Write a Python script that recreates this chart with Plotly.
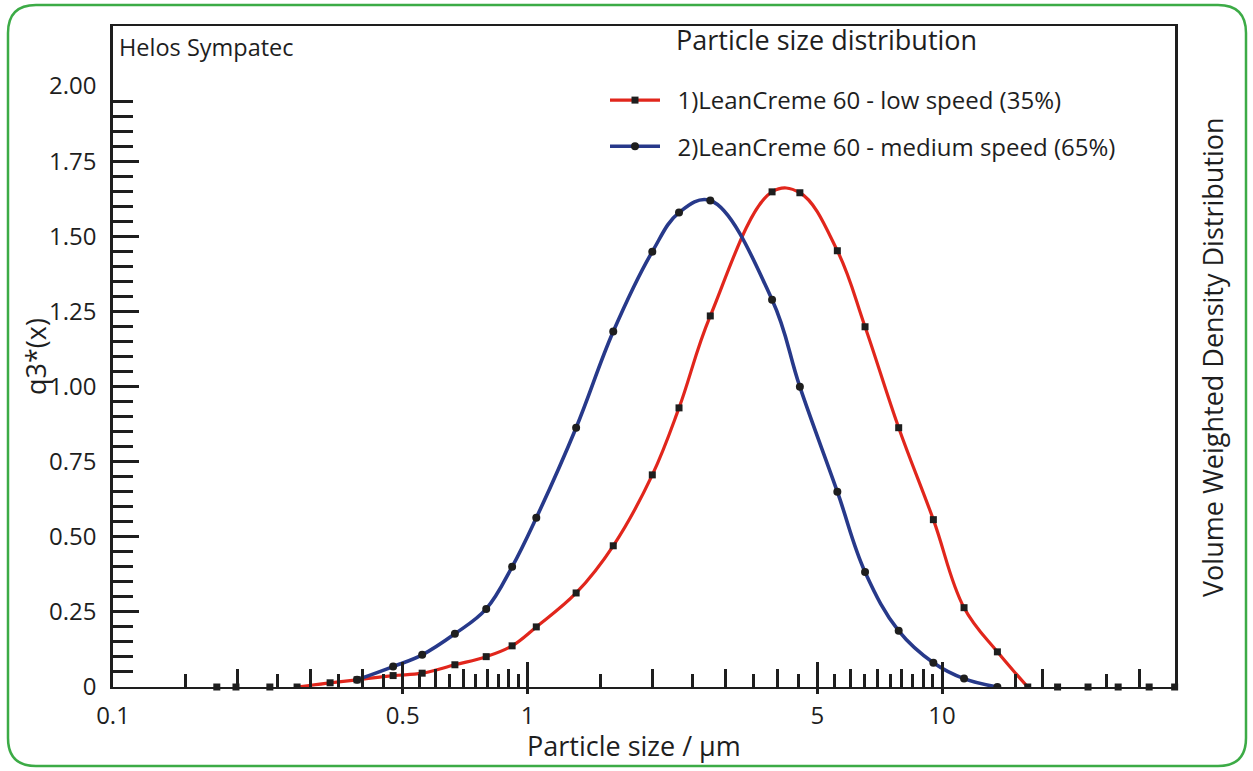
import plotly.graph_objects as go

# Particle size classes (µm) and volume weighted density q3*(x)
size_um = [0.178, 0.198, 0.239, 0.278, 0.334, 0.388, 0.474, 0.557, 0.668, 0.795,
           0.918, 1.05, 1.31, 1.61, 2.00, 2.32, 2.76, 3.89, 4.54, 5.59,
           6.52, 7.86, 9.53, 11.3, 13.6, 16.1, 19.0, 22.5, 26.6, 31.6, 36.4]

q3_low = [0, 0, 0, 0, 0.014, 0.024, 0.038, 0.046, 0.074, 0.101,
          0.137, 0.200, 0.313, 0.470, 0.706, 0.929, 1.235, 1.648, 1.645, 1.452,
          1.199, 0.863, 0.557, 0.264, 0.117, 0, 0, 0, 0, 0, 0]

size_um_medium = size_um[5:25]
q3_medium = [0.024, 0.068, 0.107, 0.177, 0.260, 0.400, 0.563, 0.863, 1.183, 1.449,
             1.579, 1.619, 1.289, 0.999, 0.650, 0.383, 0.187, 0.081, 0.028, 0]

x_tick_vals = [0.1, 0.5, 1, 5, 10]
x_tick_text = ["0.1", "0.5", "1", "5", "10"]
x_major = [0.5, 1, 5, 10]
x_medium = [0.2, 0.3, 0.4, 0.6, 0.7, 0.8, 0.9, 2, 3, 4, 6, 7, 8, 9, 17.5, 30]
x_short = [0.15, 0.25, 0.35, 0.45, 0.55, 0.65, 0.75, 0.85, 0.95,
           1.5, 2.5, 3.5, 4.5, 5.5, 6.5, 7.5, 8.5, 9.5, 15, 25]

y_tick_vals = [0, 0.25, 0.5, 0.75, 1.0, 1.25, 1.5, 1.75, 2.0]
y_tick_text = ["0", "0.25", "0.50", "0.75", "1.00", "1.25", "1.50", "1.75", "2.00"]
y_major = [0.25, 0.5, 0.75, 1.0, 1.25, 1.5, 1.75]
y_minor = [round(0.05 * k, 2) for k in range(1, 40) if k % 5 != 0]

FONT = "Open Sans"
INK = "#1e1e1e"
RED = "#e1261c"
BLUE = "#27398a"
GREEN = "#3cab46"

W, H = 1253, 771
ML, MR, MT, MB = 113, 78, 26, 84
PW = W - ML - MR
PH = H - MT - MB
X_RANGE = [-1.0, 1.562]
Y_RANGE = [0, 2.2]


def px(x):
    return (x - ML) / PW


def py(y):
    return (H - MB - y) / PH


def rounded_frame(x0, y0, x1, y1, r):
    pts = [
        f"M {px(x0 + r)},{py(y0)}",
        f"L {px(x1 - r)},{py(y0)}",
        f"Q {px(x1)},{py(y0)} {px(x1)},{py(y0 + r)}",
        f"L {px(x1)},{py(y1 - r)}",
        f"Q {px(x1)},{py(y1)} {px(x1 - r)},{py(y1)}",
        f"L {px(x0 + r)},{py(y1)}",
        f"Q {px(x0)},{py(y1)} {px(x0)},{py(y1 - r)}",
        f"L {px(x0)},{py(y0 + r)}",
        f"Q {px(x0)},{py(y0)} {px(x0 + r)},{py(y0)}",
        "Z",
    ]
    return " ".join(pts)


# the drawn curve of the low-speed run spans from the last zero before
# the distribution to the first zero after it
nz = [i for i, v in enumerate(q3_low) if v > 0]
i0, i1 = nz[0] - 1, nz[-1] + 1

NB = "\u00a0\u00a0"

fig = go.Figure()

fig.add_trace(go.Scatter(
    x=size_um[i0:i1 + 1], y=q3_low[i0:i1 + 1],
    mode="lines+markers", name=NB + "1)LeanCreme 60 - low speed (35%)",
    legendgroup="low",
    line=dict(color=RED, width=3.2, shape="spline", smoothing=1.1),
    marker=dict(symbol="square", size=7, color=INK),
))
fig.add_trace(go.Scatter(
    x=size_um[:i0] + size_um[i1 + 1:], y=q3_low[:i0] + q3_low[i1 + 1:],
    mode="markers", showlegend=False, cliponaxis=False,
    marker=dict(symbol="square", size=7, color=INK),
))
fig.add_trace(go.Scatter(
    x=size_um_medium, y=q3_medium,
    mode="lines+markers", name=NB + "2)LeanCreme 60 - medium speed (65%)",
    legendgroup="medium",
    line=dict(color=BLUE, width=3.6, shape="spline", smoothing=1.1),
    marker=dict(symbol="circle", size=8, color=INK),
))

# empty traces so the tick-only overlay axes get drawn
for xa, ya in (("x2", "y"), ("x3", "y"), ("x", "y2")):
    fig.add_trace(go.Scatter(x=[None], y=[None], xaxis=xa, yaxis=ya,
                             showlegend=False, hoverinfo="skip"))

tick_common = dict(tickcolor=INK, tickwidth=2.5, showgrid=False, zeroline=False,
                   showticklabels=False, showline=False)

fig.update_layout(
    width=W, height=H,
    margin=dict(l=ML, r=MR, t=MT, b=MB),
    paper_bgcolor="white", plot_bgcolor="white",
    font=dict(family=FONT, color=INK, size=24),
    xaxis=dict(type="log", range=X_RANGE, showline=True, linecolor=INK,
               linewidth=2, mirror=True, ticks="", tickvals=x_tick_vals,
               ticktext=x_tick_text, tickfont=dict(size=24),
               ticklabelstandoff=6, showgrid=False, zeroline=False),
    xaxis2=dict(type="log", range=X_RANGE, overlaying="x", anchor="y",
                side="bottom", tickvals=x_major, ticks="inside", ticklen=25,
                minor=dict(tickvals=x_medium, ticks="inside", ticklen=18,
                           tickcolor=INK, tickwidth=2.5, showgrid=False),
                **tick_common),
    xaxis3=dict(type="log", range=X_RANGE, overlaying="x", anchor="y",
                side="bottom", tickvals=x_major, ticks="outside", ticklen=6,
                minor=dict(tickvals=x_short, ticks="inside", ticklen=13,
                           tickcolor=INK, tickwidth=2.5, showgrid=False),
                **tick_common),
    yaxis=dict(range=Y_RANGE, showline=True, linecolor=INK, linewidth=2.5,
               mirror=True, ticks="", tickvals=y_tick_vals, ticktext=y_tick_text,
               tickfont=dict(size=24), ticklabelstandoff=9,
               showgrid=False, zeroline=False),
    yaxis2=dict(range=Y_RANGE, overlaying="y", anchor="x", side="left",
                tickvals=y_major, ticks="inside", ticklen=26,
                minor=dict(tickvals=y_minor, ticks="inside", ticklen=20,
                           tickcolor=INK, tickwidth=2.5, showgrid=False),
                **tick_common),
    legend=dict(x=px(605), y=py(78), xanchor="left", yanchor="top",
                bgcolor="rgba(0,0,0,0)", font=dict(size=24),
                tracegroupgap=12, itemwidth=50, traceorder="grouped"),
    showlegend=True,
    shapes=[dict(type="path", xref="paper", yref="paper",
                 path=rounded_frame(8, 5, 1246, 766, 28),
                 line=dict(color=GREEN, width=2.5), layer="below")],
    annotations=[
        dict(text="Particle size distribution", x=px(674), y=py(40),
             xref="paper", yref="paper", xanchor="left", yanchor="middle",
             showarrow=False, font=dict(size=27)),
        dict(text="Helos Sympatec", x=px(117), y=py(47),
             xref="paper", yref="paper", xanchor="left", yanchor="middle",
             showarrow=False, font=dict(size=23.5)),
        dict(text="q3*(x)", x=px(35), y=py(357), xref="paper", yref="paper",
             xanchor="center", yanchor="middle", textangle=-90,
             showarrow=False, font=dict(size=27)),
        dict(text="Volume Weighted Density Distribution", x=px(1212), y=py(357),
             xref="paper", yref="paper", xanchor="center", yanchor="middle",
             textangle=-90, showarrow=False, font=dict(size=27)),
        dict(text="Particle size / µm", x=px(634), y=py(745),
             xref="paper", yref="paper", xanchor="center", yanchor="middle",
             showarrow=False, font=dict(size=27)),
    ],
)

fig.write_html("out.html")
